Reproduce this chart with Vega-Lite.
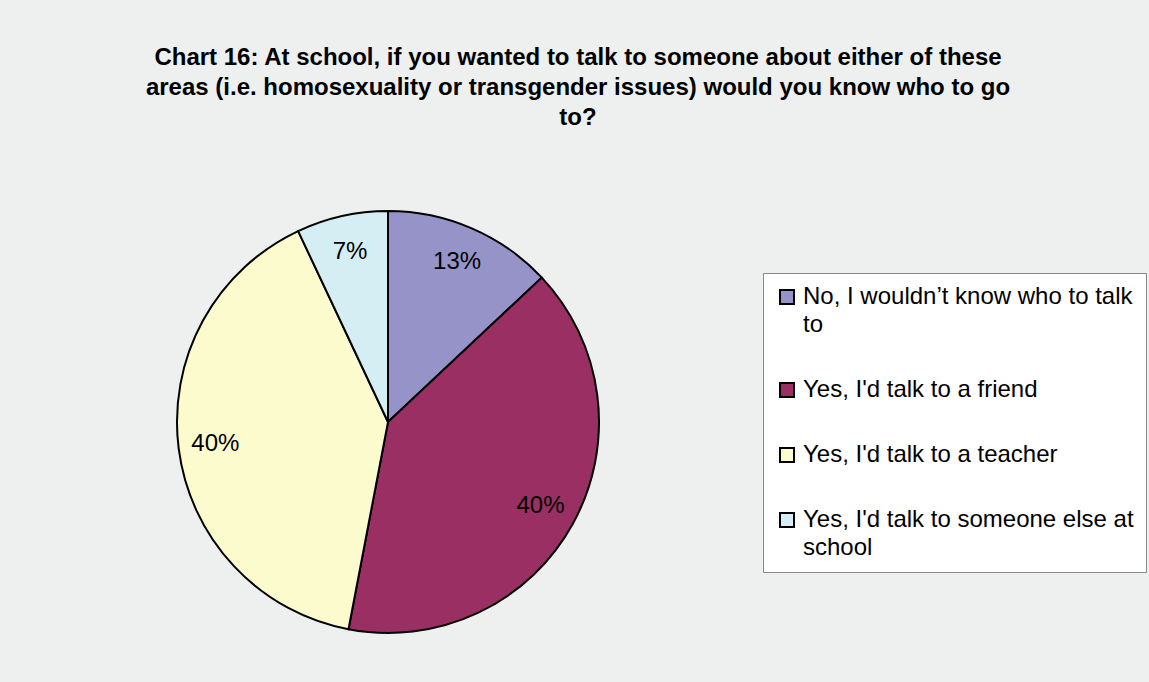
{
  "$schema": "https://vega.github.io/schema/vega-lite/v6.json",
  "width": 422,
  "height": 422,
  "autosize": "none",
  "padding": {"left": 177, "top": 211, "right": 550, "bottom": 49},
  "background": "#eef0ef",
  "view": {"stroke": null},
  "title": {
    "text": [
      "Chart 16: At school, if you wanted to talk to someone about either of these",
      "areas (i.e. homosexuality or transgender issues) would you know who to go",
      "to?"
    ],
    "anchor": "middle",
    "dx": 190,
    "offset": 77,
    "font": "Liberation Sans",
    "fontSize": 24,
    "fontWeight": "bold",
    "lineHeight": 30,
    "color": "#000000"
  },
  "data": {
    "values": [
      {"category": "No, I wouldn’t know who to talk to", "share": 0.13, "order": 1},
      {"category": "Yes, I'd talk to a friend", "share": 0.40, "order": 2},
      {"category": "Yes, I'd talk to a teacher", "share": 0.40, "order": 3},
      {"category": "Yes, I'd talk to someone else at school", "share": 0.07, "order": 4}
    ]
  },
  "encoding": {
    "theta": {"field": "share", "type": "quantitative", "stack": true},
    "order": {"field": "order", "type": "quantitative"}
  },
  "layer": [
    {
      "mark": {"type": "arc", "stroke": "#000000", "strokeWidth": 2},
      "encoding": {
        "color": {
          "field": "category",
          "type": "nominal",
          "sort": null,
          "scale": {
            "domain": [
              "No, I wouldn’t know who to talk to",
              "Yes, I'd talk to a friend",
              "Yes, I'd talk to a teacher",
              "Yes, I'd talk to someone else at school"
            ],
            "range": ["#9593c8", "#992f62", "#fcfbcd", "#d5eef4"]
          },
          "legend": {
            "title": null,
            "orient": "none",
            "legendX": 586,
            "legendY": 62,
            "fillColor": "#ffffff",
            "strokeColor": "#888888",
            "padding": 12,
            "rowPadding": 41,
            "symbolType": "square",
            "symbolSize": 196,
            "symbolStrokeColor": "#000000",
            "symbolStrokeWidth": 2,
            "labelFont": "Liberation Sans",
            "labelFontSize": 24,
            "labelColor": "#000000",
            "labelLimit": 400,
            "labelOffset": 4,
            "labelExpr": "datum.label == 'No, I wouldn’t know who to talk to' ? ['No, I wouldn’t know who to talk', 'to'] : datum.label == 'Yes, I\\'d talk to someone else at school' ? ['Yes, I\\'d talk to someone else at', 'school'] : datum.label",
            "encode": {
              "labels": {"update": {"lineHeight": {"value": 28}}}
            }
          }
        }
      }
    },
    {
      "mark": {"type": "text", "radius": 174, "font": "Liberation Sans", "fontSize": 24, "color": "#000000"},
      "encoding": {
        "text": {"field": "share", "type": "quantitative", "format": ".0%"}
      }
    }
  ]
}
